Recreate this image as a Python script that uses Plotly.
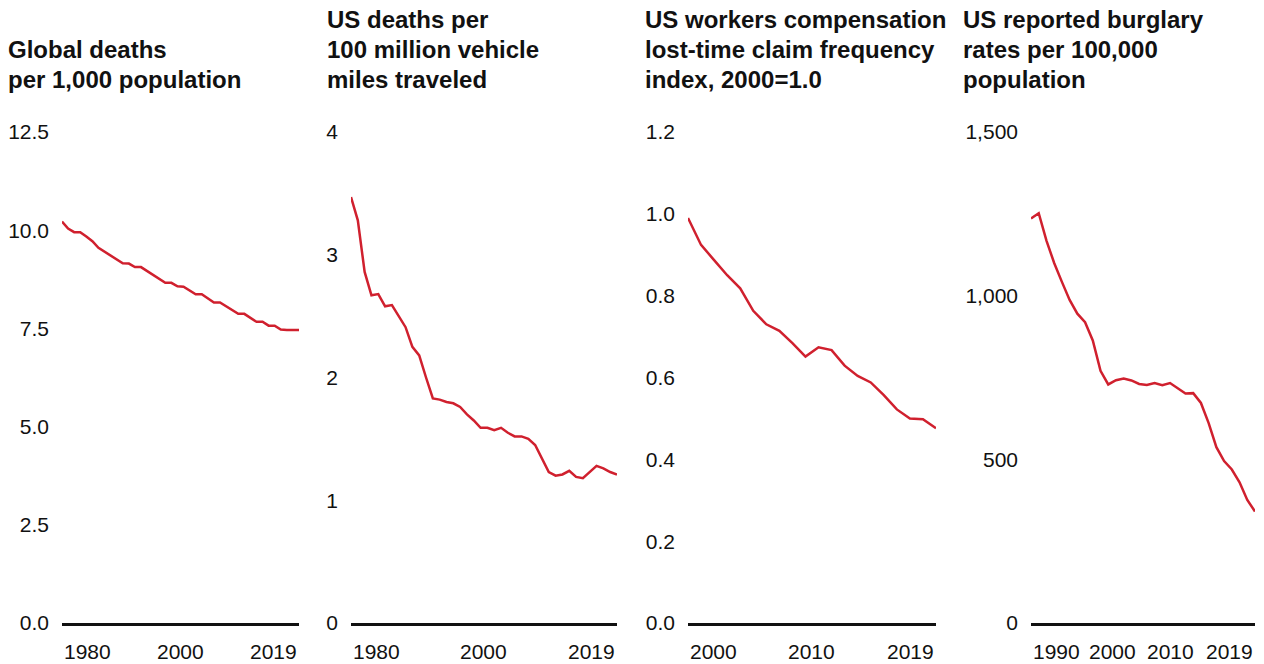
import plotly.graph_objects as go

W, H = 1264, 664

# ---------------- data ----------------
years1 = list(range(1980, 2020))
global_deaths = [10.22, 10.04, 9.95, 9.95, 9.84, 9.72, 9.55, 9.45, 9.35, 9.25,
                 9.16, 9.15, 9.06, 9.06, 8.96, 8.86, 8.76, 8.66, 8.66, 8.57,
                 8.56, 8.46, 8.37, 8.37, 8.27, 8.16, 8.16, 8.06, 7.96, 7.87,
                 7.87, 7.77, 7.67, 7.67, 7.57, 7.57, 7.47, 7.46, 7.46, 7.46]

years2 = list(range(1980, 2020))
us_vehicle_deaths = [3.47, 3.28, 2.86, 2.67, 2.68, 2.58, 2.59, 2.50, 2.41, 2.25,
                     2.18, 2.00, 1.83, 1.82, 1.80, 1.79, 1.76, 1.70, 1.65, 1.59,
                     1.59, 1.57, 1.59, 1.55, 1.52, 1.52, 1.50, 1.45, 1.34, 1.23,
                     1.20, 1.21, 1.24, 1.19, 1.18, 1.23, 1.28, 1.26, 1.23, 1.21]

years3 = list(range(2000, 2020))
claim_index = [0.99, 0.924, 0.887, 0.850, 0.818, 0.763, 0.730, 0.714, 0.684, 0.651,
               0.674, 0.667, 0.629, 0.604, 0.588, 0.557, 0.522, 0.500, 0.498, 0.476]

years4 = list(range(1990, 2020))
burglary = [1235.9, 1252.1, 1168.4, 1099.7, 1042.1, 987.0, 945.0, 918.8, 863.2, 770.4,
            728.8, 741.8, 747.0, 741.0, 730.3, 726.9, 733.1, 726.1, 733.0, 717.7,
            701.0, 702.2, 672.2, 610.5, 537.2, 494.7, 468.9, 429.7, 376.0, 340.5]

titles = [["Global deaths", "per 1,000 population"],
          ["US deaths per", "100 million vehicle", "miles traveled"],
          ["US workers compensation", "lost-time claim frequency", "index, 2000=1.0"],
          ["US reported burglary", "rates per 100,000", "population"]]

y_max = [12.5, 4, 1.2, 1500]
y_dtick = [2.5, 1, 0.2, 500]
y_fmt = [".1f", "d", ".1f", ","]

x_labels = [["1980", "2000", "2019"],
            ["1980", "2000", "2019"],
            ["2000", "2010", "2019"],
            ["1990", "2000", "2010", "2019"]]
x_label_years = [[1980, 2000, 2019],
                 [1980, 2000, 2019],
                 [2000, 2010, 2019],
                 [1990, 2000, 2010, 2019]]

series = [(years1, global_deaths), (years2, us_vehicle_deaths),
          (years3, claim_index), (years4, burglary)]

# ---------------- layout geometry (screen pixels) ----------------
panel_px = [(62, 299), (351, 617), (688, 936), (1031, 1255)]
title_left_px = [6, 325, 643, 961]
title_line_px = [79, 49, 19]          # centres of the title lines, bottom up
mid_shift = [[0, -3, 0], [0, -4, 0], [0, -7, 0], [0, 4.5, -15, 0]]
plot_top_px, plot_bot_px = 132, 623


def px_x(px):
    return px / W


def px_y(py):
    return (H - py) / H


RED = "#D0202E"
FONT = "Liberation Sans, Arial, sans-serif"

fig = go.Figure()
layout = dict(
    width=W, height=H,
    margin=dict(l=0, r=0, t=0, b=0, autoexpand=False),
    paper_bgcolor="white", plot_bgcolor="white",
    showlegend=False, hovermode=False,
    font=dict(family=FONT, color="#111111", size=21),
)
annotations = []

ydom = [px_y(plot_bot_px), px_y(plot_top_px)]

for i, ((xs, ys), (x0, x1)) in enumerate(zip(series, panel_px)):
    n = "" if i == 0 else str(i + 1)
    fig.add_trace(go.Scatter(x=xs, y=ys, mode="lines",
                             line=dict(color=RED, width=2.5),
                             xaxis="x" + n, yaxis="y" + n, hoverinfo="skip"))
    layout["xaxis" + n] = dict(
        domain=[px_x(x0), px_x(x1)], range=[xs[0], xs[-1]], anchor="y" + n,
        showgrid=False, zeroline=False, showticklabels=False, ticks="",
        showline=True, linecolor="#111111", linewidth=3, automargin=False,
        fixedrange=True,
    )
    layout["yaxis" + n] = dict(
        domain=ydom, range=[0, y_max[i]], anchor="x" + n,
        showgrid=False, zeroline=False, showline=False, ticks="",
        dtick=y_dtick[i], tick0=0, tickformat=y_fmt[i], automargin=False,
        tickfont=dict(size=21, color="#111111"), ticklabelstandoff=12,
        fixedrange=True,
    )
    for k, line in enumerate(reversed(titles[i])):
        annotations.append(dict(
            text="<b>" + line + "</b>", xref="paper", yref="paper",
            x=px_x(title_left_px[i]), y=px_y(title_line_px[k]),
            xanchor="left", yanchor="middle", align="left", showarrow=False,
            font=dict(size=24, color="#111111"),
        ))
    labs = x_labels[i]
    for j, (lab, yr) in enumerate(zip(labs, x_label_years[i])):
        if j == 0:
            xa, xv = "left", xs[0]
        elif j == len(labs) - 1:
            xa, xv = "right", xs[-1]
        else:
            xa, xv = "center", yr
        annotations.append(dict(
            text=lab, xref="x" + n, yref="paper", x=xv, y=px_y(651),
            xanchor=xa, yanchor="middle", showarrow=False,
            xshift=mid_shift[i][j], font=dict(size=21, color="#111111"),
        ))

layout["annotations"] = annotations
fig.update_layout(**layout)
# remove the default 8px page margin so the figure fills the window exactly
fig.write_html("out.html", config={"displayModeBar": False, "staticPlot": True},
               post_script="document.body.style.margin='0px';")
